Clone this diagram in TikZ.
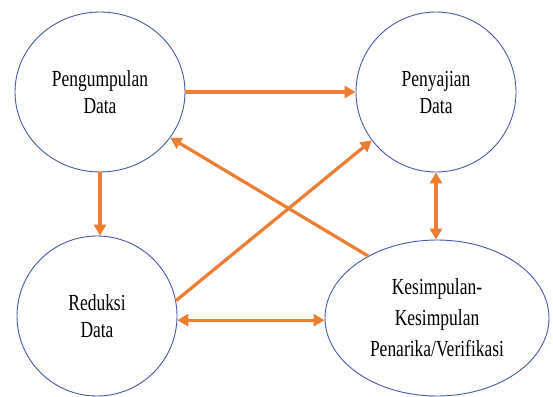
\documentclass[tikz,border=0pt]{standalone}
\usepackage{fontspec}
\setmainfont{Liberation Serif}
\newfontfamily\narrowserif[FakeStretch=0.76]{Liberation Serif}
\usetikzlibrary{shapes.geometric,arrows.meta}
\definecolor{ringblue}{RGB}{72,88,168}
\definecolor{flow}{RGB}{237,125,49}
\begin{document}
\begin{tikzpicture}[x=1pt,y=1pt,
  stage/.style={ellipse,draw=ringblue,line width=0.9pt,fill=white,inner sep=0pt,
    align=center,font=\narrowserif\fontsize{23}{27}\selectfont},
  flowarrow/.style={draw=flow,line width=3.2pt,
    -{Triangle[length=11pt,width=12pt]}},
  flowboth/.style={draw=flow,line width=3.2pt,
    {Triangle[length=11pt,width=12pt]}-{Triangle[length=11pt,width=12pt]}}]
  \fill[white] (0,0) rectangle (553,-396);
  \useasboundingbox (0,0) rectangle (553,-396);

  % the four stages
  \node[stage,minimum width=170pt,minimum height=160pt] (p) at (100,-92)
    {Pengumpulan\\Data};
  \node[stage,minimum width=160pt,minimum height=160pt] (s) at (436,-92)
    {Penyajian\\Data};
  \node[stage,minimum width=160pt,minimum height=160pt] (r) at (97,-316)
    {Reduksi\\Data};
  \node[stage,minimum width=224pt,minimum height=156pt,
    font=\narrowserif\fontsize{23}{31}\selectfont] (k) at (437,-318)
    {Kesimpulan-\\Kesimpulan\\Penarika/Verifikasi};

  % flows between the stages
  \draw[flowarrow] (p.east) -- (s.west);
  \draw[flowarrow] (p.south) -- (p.south |- r.north);
  \draw[flowarrow] (r.11) -- (s.217);
  \draw[flowarrow] (k.138) -- (p.327);
  \draw[flowboth] (r.-3) -- (r.-3 -| k.west);
  \draw[flowboth] (s.south) -- (s.south |- k.north);
\end{tikzpicture}
\end{document}
